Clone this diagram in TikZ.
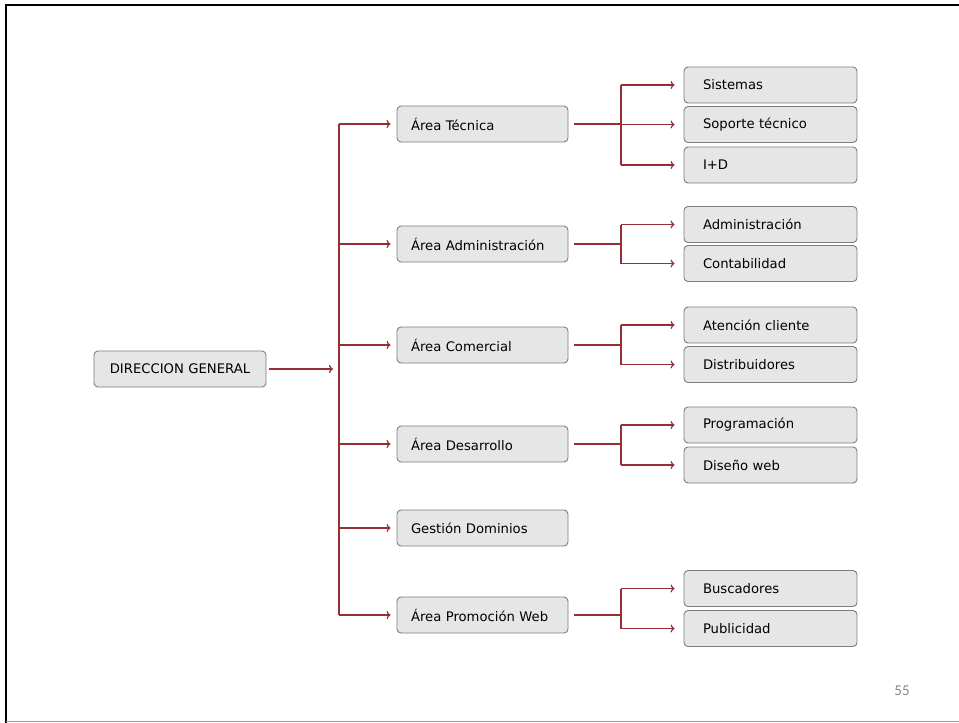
\documentclass[tikz,border=0pt]{standalone}
\usepackage{fontspec}
\usetikzlibrary{arrows.meta}
\setmainfont{DejaVu Sans}
\newfontfamily\numfont{Carlito}
\definecolor{linered}{RGB}{150,45,55}
\definecolor{boxfill}{RGB}{230,230,230}
\definecolor{boxline}{RGB}{125,125,125}
\definecolor{numgray}{RGB}{135,135,135}
\begin{document}
\begin{tikzpicture}[>={To[length=4pt,width=8pt]},
    box/.style={draw=boxline,fill=boxfill,line width=0.9pt,rounded corners=4pt,
      minimum height=36pt,font=\fontsize{13.2}{16}\selectfont},
    area/.style={box,text width=143pt,inner xsep=14pt,align=left},
    sub/.style={box,text width=135pt,inner xsep=19pt,align=left},
    conn/.style={draw=linered,line width=1.3pt}]
    \def\x{1pt}
    \def\y{-1pt}
    \useasboundingbox (0,0) rectangle (959*\x, 723*\y);
    % frame
    \draw [line width=2.5pt] (959*\x, 5*\y) -- (6*\x, 5*\y) -- (6*\x, 723*\y);
    \draw [line width=1.5pt,black!40] (6*\x, 721.5*\y) -- (959*\x, 721.5*\y);
    \node (A0_0) [box,text width=150pt,inner xsep=11pt,align=center] at (180*\x, 369*\y) {DIRECCION GENERAL};
    \node (A1_1) [area] at (482.5*\x, 124*\y) {Área Técnica};
    \node (A2_1) [area] at (482.5*\x, 244*\y) {Área Administración};
    \node (A3_1) [area] at (482.5*\x, 345*\y) {Área Comercial};
    \node (A4_1) [area] at (482.5*\x, 444*\y) {Área Desarrollo};
    \node (A5_1) [area] at (482.5*\x, 528*\y) {Gestión Dominios};
    \node (A6_1) [area] at (482.5*\x, 615*\y) {Área Promoción Web};
    \node (S1_1) [sub] at (770.5*\x, 85*\y) {Sistemas};
    \node (S1_2) [sub] at (770.5*\x, 124.5*\y) {Soporte técnico};
    \node (S1_3) [sub] at (770.5*\x, 165*\y) {I+D};
    \node (S2_1) [sub] at (770.5*\x, 224.5*\y) {Administración};
    \node (S2_2) [sub] at (770.5*\x, 263.5*\y) {Contabilidad};
    \node (S3_1) [sub] at (770.5*\x, 325*\y) {Atención cliente};
    \node (S3_2) [sub] at (770.5*\x, 364.5*\y) {Distribuidores};
    \node (S4_1) [sub] at (770.5*\x, 425*\y) {Programación};
    \node (S4_2) [sub] at (770.5*\x, 465*\y) {Diseño web};
    \node (S6_1) [sub] at (770.5*\x, 588.5*\y) {Buscadores};
    \node (S6_2) [sub] at (770.5*\x, 628.5*\y) {Publicidad};
    \node (pg) [font=\numfont\fontsize{15}{18}\selectfont,text=numgray] at (902*\x, 691*\y) {55};
    % trunk and branches
    \coordinate (T) at (339*\x, 369*\y);
    \coordinate (J) at (621*\x, 369*\y);
    \path (A0_0) edge [conn,->,shorten <=3pt,shorten >=6pt] (T);
    \draw [conn] (T |- A1_1) -- (T |- A6_1);
    \path (T |- A1_1) edge [conn,->,shorten >=6pt] (A1_1);
    \path (T |- A2_1) edge [conn,->,shorten >=6pt] (A2_1);
    \path (T |- A3_1) edge [conn,->,shorten >=6pt] (A3_1);
    \path (T |- A4_1) edge [conn,->,shorten >=6pt] (A4_1);
    \path (T |- A5_1) edge [conn,->,shorten >=6pt] (A5_1);
    \path (T |- A6_1) edge [conn,->,shorten >=6pt] (A6_1);
    % second level
    \path (A1_1) edge [conn,shorten <=6pt] (J |- A1_1);
    \path (A2_1) edge [conn,shorten <=6pt] (J |- A2_1);
    \path (A3_1) edge [conn,shorten <=6pt] (J |- A3_1);
    \path (A4_1) edge [conn,shorten <=6pt] (J |- A4_1);
    \path (A6_1) edge [conn,shorten <=6pt] (J |- A6_1);
    \draw [conn] (J |- S1_1) -- (J |- S1_3);
    \draw [conn] (J |- S2_1) -- (J |- S2_2);
    \draw [conn] (J |- S3_1) -- (J |- S3_2);
    \draw [conn] (J |- S4_1) -- (J |- S4_2);
    \draw [conn] (J |- S6_1) -- (J |- S6_2);
    \path (J |- S1_1) edge [conn,->,shorten >=9pt] (S1_1);
    \path (J |- S1_2) edge [conn,->,shorten >=9pt] (S1_2);
    \path (J |- S1_3) edge [conn,->,shorten >=9pt] (S1_3);
    \path (J |- S2_1) edge [conn,->,shorten >=9pt] (S2_1);
    \path (J |- S2_2) edge [conn,->,shorten >=9pt] (S2_2);
    \path (J |- S3_1) edge [conn,->,shorten >=9pt] (S3_1);
    \path (J |- S3_2) edge [conn,->,shorten >=9pt] (S3_2);
    \path (J |- S4_1) edge [conn,->,shorten >=9pt] (S4_1);
    \path (J |- S4_2) edge [conn,->,shorten >=9pt] (S4_2);
    \path (J |- S6_1) edge [conn,->,shorten >=9pt] (S6_1);
    \path (J |- S6_2) edge [conn,->,shorten >=9pt] (S6_2);
  \end{tikzpicture}
\end{document}
